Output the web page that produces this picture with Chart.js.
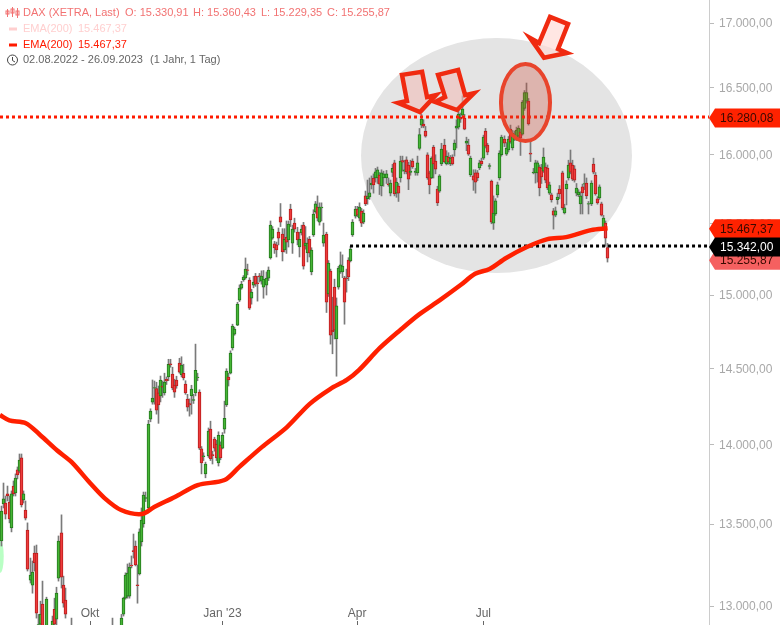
<!DOCTYPE html>
<html><head><meta charset="utf-8">
<style>html,body{margin:0;padding:0;background:#fff;overflow:hidden}#w{position:relative;width:780px;height:625px}canvas{display:block}</style>
<script src="https://cdn.jsdelivr.net/npm/chart.js@4"></script>
</head><body><div id="w"><canvas id="c" width="780" height="625"></canvas></div>
<script>
const _ = null;
const opens = [
13395,13625,13631,13688,13637,13476,13738,13694,13840,13833,
13917,13650,13587,13463,13156,13126,13321,13321,12886,12892,
13011,_,12870,_,_,12850,12981,12922,13168,13445,
13126,13035,_,_,12880,_,_,_,_,_,
_,_,_,_,_,_,_,_,_,_,
_,_,_,_,12870,_,_,_,12850,12952,
13047,13059,13059,13248,13336,13364,13128,13193,13389,13500,
13660,13600,14167,14279,14370,14368,14340,14320,14385,14340,
14430,14445,14532,14464,14391,14425,14537,14458,14470,14398,
14298,14270,14320,14290,14340,14440,14345,13975,13925,13815,
13930,14102,13938,14038,14005,13885,14000,13980,14102,14260,
14445,14470,14640,14733,14794,14965,15048,15105,15118,15175,
15103,14978,15068,15131,15085,15133,15096,15055,15068,15117,
15258,15398,15357,15350,15440,15550,15427,15315,15405,15385,
15605,15362,15505,15440,15335,15435,15490,15342,15293,15390,
15160,15420,15585,15620,15512,15614,15362,15427,15008,15166,
14758,15055,14700,15055,15160,15160,15117,15120,15244,15237,
15420,15555,15605,15540,15590,15512,15700,15680,15692,15780,
15830,15830,15830,15852,15772,15830,15830,15788,15720,15870,
15940,15720,15772,15830,15958,15880,15962,15925,15870,15954,
15870,15867,16046,16220,16228,16175,16000,15867,15830,16057,
15954,15750,15735,15932,16072,15932,15983,15932,15983,16035,
16197,16205,16278,16295,16272,16086,16072,15852,15845,15867,
15867,15903,15954,15975,16175,16072,15914,15808,15505,15570,
15708,15830,16000,16116,16005,16035,16190,16050,16116,16116,
16138,16168,16153,16345,16400,16400,16013,15867,15867,15867,
15910,15903,15880,15910,15903,15720,15708,15592,15562,15672,
15750,15867,15577,15750,15830,15940,15925,15896,15720,15708,
15642,15765,15785,15793,15640,15642,15932,15852,15678,15685,
15642,15470,15505,15330.91];
const highs = [
13612,13757,13675,13738,13675,13707,13770,13815,13859,13942,
13942,13707,13644,13507,13290,13272,13364,13370,12950,13029,
13150,_,13053,_,_,12940,13047,13113,13426,13557,
13180,13108,_,_,12928,_,_,_,_,_,
_,_,_,_,_,_,_,_,_,_,
_,_,_,_,12928,_,_,_,12950,13053,
13200,13254,13260,13303,13438,13395,13248,13470,13600,13700,
13700,14160,14235,14425,14418,14410,14385,14451,14418,14470,
14445,14563,14563,14510,14430,14450,14570,14580,14530,14420,
14330,14300,14390,14330,14665,14470,14360,13990,13950,13890,
14110,14154,13960,14050,14030,14085,14020,14080,14285,14500,
14470,14620,14800,14780,14950,15070,15095,15135,15258,15215,
15120,15040,15130,15150,15130,15150,15168,15170,15160,15195,
15520,15480,15375,15370,15470,15645,15465,15465,15520,15520,
15640,15490,15540,15475,15440,15490,15510,15480,15400,15410,
15330,15600,15660,15700,15650,15650,15505,15440,15240,15180,
14985,15110,14980,15200,15300,15280,15130,15180,15260,15340,
15530,15625,15625,15650,15610,15600,15735,15815,15830,15845,
15860,15900,15910,15870,15890,15880,15885,15830,15815,15930,
15960,15830,15790,15990,15990,15960,15985,15945,15960,15970,
15900,15990,16195,16300,16260,16210,16015,15880,15985,16070,
16000,15770,15855,16085,16115,16030,16015,15995,16000,16110,
16260,16330,16310,16440,16300,16130,16115,15990,15890,15890,
15885,15960,15975,16145,16195,16085,15935,15815,15700,15680,
15800,16030,16145,16140,16090,16135,16220,16180,16175,16205,
16215,16190,16405,16480,16537,16420,16100,15900,15960,15955,
15925,15930,16050,15940,15925,15800,15720,15610,15620,15720,
15775,15880,15640,15810,15960,16035,15960,15920,15790,15745,
15730,15785,15860,15830,15660,15810,15975,15870,15695,15780,
15655,15560,15520,15360.43];
const lows = [
13364,13600,13531,13644,13507,13451,13675,13675,13783,13821,
13606,13631,13525,13211,13138,13077,13211,12928,12860,12860,
12820,_,12820,_,_,12800,12850,12880,13150,13108,
12993,12928,_,_,12800,_,_,_,_,_,
_,_,_,_,_,_,_,_,_,_,
_,_,_,_,12800,_,_,_,12820,12940,
13041,13047,13047,13230,13290,13242,13017,13187,13364,13480,
13640,13590,14150,14265,14265,14200,14140,14280,14310,14325,
14395,14420,14510,14360,14310,14370,14470,14445,14425,14330,
14220,14187,14200,14270,14320,14420,13970,13815,13900,13790,
13920,13900,13878,13960,13900,13865,13905,13975,14076,14250,
14385,14465,14625,14725,14790,14955,15040,15095,15110,15140,
14900,14937,15050,15060,14958,15090,15075,14978,15000,15100,
15250,15390,15290,15265,15350,15480,15237,15300,15290,15335,
15480,15290,15440,15350,15265,15420,15180,15320,15230,15265,
15140,15410,15575,15520,15490,15520,15340,14880,14990,14665,
14600,14700,14450,15040,15150,15120,14800,15020,15100,15230,
15410,15540,15550,15520,15480,15500,15630,15640,15675,15750,
15720,15800,15790,15710,15700,15770,15790,15770,15700,15840,
15700,15690,15660,15800,15880,15860,15860,15745,15850,15900,
15850,15850,16035,16200,16200,16130,15820,15715,15825,15830,
15860,15630,15725,15920,15940,15925,15930,15920,15925,15990,
16050,16190,16240,16285,16185,16030,15995,15840,15740,15720,
15810,15890,15920,15965,16050,16000,15895,15500,15460,15560,
15690,15815,15990,16060,15995,16020,16085,16035,16105,16105,
16125,15995,16145,16330,16385,16220,15950,15860,15793,15800,
15700,15790,15870,15795,15745,15710,15655,15462,15550,15640,
15680,15600,15570,15635,15815,15860,15810,15800,15700,15695,
15570,15570,15745,15680,15570,15630,15860,15705,15640,15675,
15555,15460,15340,15229.35];
const closes = [
13581,13657,13562,13675,13531,13688,13688,13789,13808,13903,
13619,13688,13537,13223,13187,13205,13260,12958,12890,12952,
12870,_,13041,_,_,12910,12892,13077,13395,13174,
13017,12952,_,_,12860,_,_,_,_,_,
_,_,_,_,_,_,_,_,_,_,
_,_,_,_,12860,_,_,_,12928,13047,
13187,13199,13235,13242,13330,13248,13122,13451,13525,13681,
13665,14135,14220,14305,14375,14226,14260,14425,14378,14411,
14418,14530,14527,14372,14345,14385,14477,14524,14438,14340,
14246,14260,14365,14295,14490,14445,13980,13885,13930,13878,
14090,13910,13932,13980,13917,14063,13917,14063,14173,14485,
14425,14605,14788,14767,14937,15048,15075,15125,15180,15170,
14910,15020,15090,15075,15078,15125,15131,15110,15117,15173,
15490,15462,15328,15315,15398,15512,15300,15390,15370,15497,
15527,15462,15462,15385,15390,15462,15200,15362,15362,15293,
15314,15570,15642,15540,15620,15620,15420,14950,15223,14726,
14750,14760,14925,15188,15210,15202,14950,15113,15125,15320,
15512,15605,15562,15620,15505,15577,15642,15695,15722,15793,
15780,15875,15890,15785,15868,15860,15860,15782,15793,15900,
15715,15800,15720,15954,15945,15890,15875,15822,15880,15910,
15880,15940,16150,16265,16212,16138,15830,15780,15975,15932,
15895,15650,15845,16042,15947,15990,15947,15975,15932,16086,
16212,16302,16265,16340,16190,16101,16005,15975,15815,15800,
15830,15940,15932,16130,16064,16020,15920,15512,15577,15664,
15780,16012,16130,16086,16050,16116,16094,16160,16150,16183,
16198,16123,16393,16465,16465,16228,16005,15873,15940,15940,
15757,15838,15983,15815,15757,15780,15672,15562,15592,15692,
15715,15614,15614,15786,15925,15873,15822,15815,15757,15728,
15700,15722,15790,15700,15645,15793,15873,15715,15650,15765,
15562,15540,15398,15255.87];

const emaSessions = [-0.5,4,12,19,27,34,43,50,58,68,74,84,95,108,115,126,138,149,159,167,173,183,193,202,212,222,229,236,244,254,264,273,285,293];
const emaValues = [14194,14160,14141,14063,13966,13891,13757,13662,13587,13562,13606,13669,13744,13776,13858,13986,14114,14266,14365,14425,14492,14639,14762,14867,14965,15069,15147,15181,15258,15335,15391,15405,15455,15467.37];

const xTickSessions = [43,107,172,233];
const xTickLabels = ['Okt',"Jan '23",'Apr','Jul'];
const yTickValues = [17000,16500,16000,15500,15000,14500,14000,13500,13000];

const resistance = 16280.08;
const neckline = 15342.00;
const necklineStart = 168.6;
const lastSession = 342;

const tagValues = [16280.08,15255.87,15467.37,15342.00];
const tagLabels = ['16.280,08','15.255,87','15.467,37','15.342,00'];
const tagFills = ['#ff2200','#f56060','#ff2200','#000000'];
const tagInks = ['#3a0a00','#3a0a00','#3a0a00','#ffffff'];
const tagOffsets = [1,2,0.5,1];

const zoneEllipse = {from:173.9,to:304.8,top:16883,bottom:15152};
const spikeEllipse = {from:241.5,to:265.2,top:16683,bottom:16101};
const glowEllipse = {from:-2,to:1.3,top:13401,bottom:13201};
const arrowSessions = [
 [193.7,203.4,205.8,210.1,202.4,191.8,196.1],
 [211.1,220.8,224.2,228.5,220.3,209.7,214.5],
 [265.2,273.9,269.1,273.4,262.3,255.6,259.9]];
const arrowPrices = [
 [16599,16622,16430,16445,16318,16386,16401],
 [16599,16637,16445,16460,16333,16393,16430],
 [17048,16992,16798,16767,16730,16883,16844]];
const arrowFills = ['rgba(240,190,185,.62)','rgba(240,190,185,.62)','rgba(255,215,210,.62)'];

const deNum = v => v.toLocaleString('de-DE',{minimumFractionDigits:2,maximumFractionDigits:2});
const rows = opens.map((o,i)=>({i,o,h:highs[i],l:lows[i],c:closes[i]})).filter(r=>r.o!==null);
const GREEN=['#46b636','#23781c'], RED=['#ee3c3c','#b81c1c'];

function ell(ctx,ch,e){
  const x=ch.scales.x,y=ch.scales.y;
  const a=x.getPixelForValue(e.from),b=x.getPixelForValue(e.to),t=y.getPixelForValue(e.top),u=y.getPixelForValue(e.bottom);
  ctx.beginPath();ctx.ellipse((a+b)/2,(t+u)/2,Math.abs(b-a)/2,Math.abs(u-t)/2,0,0,Math.PI*2);
}
const overlays = {
  id:'overlays',
  beforeDatasetsDraw(ch){
    const ctx=ch.ctx;ctx.save();
    ell(ctx,ch,zoneEllipse);ctx.fillStyle='#e4e4e4';ctx.fill();
    ell(ctx,ch,glowEllipse);ctx.fillStyle='#b9ffc4';ctx.fill();
    ctx.restore();
    // snap candle bars onto whole pixels
    ch.getSortedVisibleDatasetMetas().forEach(m=>{
      if(m.type==='bar') m.data.forEach(el=>{el.x=Math.floor(el.x)+0.5;});
    });
  },
  afterDatasetsDraw(ch){
    const ctx=ch.ctx,x=ch.scales.x,y=ch.scales.y;ctx.save();
    ell(ctx,ch,spikeEllipse);ctx.fillStyle='rgba(205,70,50,.3)';ctx.fill();
    ctx.lineWidth=4;ctx.strokeStyle='#e8442c';ctx.stroke();
    arrowSessions.forEach((xs,k)=>{
      ctx.beginPath();
      xs.forEach((v,j)=>{const px=x.getPixelForValue(v),py=y.getPixelForValue(arrowPrices[k][j]);j?ctx.lineTo(px,py):ctx.moveTo(px,py);});
      ctx.closePath();ctx.fillStyle=arrowFills[k];ctx.fill();
      ctx.lineWidth=4.5;ctx.lineJoin='miter';ctx.strokeStyle='#f02a10';ctx.stroke();
    });
    ctx.restore();
  },
  afterDraw(ch){
    const ctx=ch.ctx,y=ch.scales.y,edge=ch.chartArea.right;ctx.save();
    ctx.font='12px "Liberation Sans",Arial,sans-serif';ctx.textBaseline='middle';ctx.textAlign='left';
    tagValues.forEach((v,k)=>{
      const c=y.getPixelForValue(v)+tagOffsets[k],h=9.5;
      ctx.beginPath();ctx.moveTo(edge,c);ctx.lineTo(edge+6,c-h);ctx.lineTo(780,c-h);ctx.lineTo(780,c+h);ctx.lineTo(edge+6,c+h);ctx.closePath();
      ctx.fillStyle=tagFills[k];ctx.fill();
      ctx.fillStyle=tagInks[k];ctx.fillText(tagLabels[k],720,c+0.5);
    });
    // header block
    ctx.font='11px "Liberation Sans",Arial,sans-serif';
    ctx.fillStyle='#f27272';ctx.fillText('DAX (XETRA, Last)',23,13);
    ctx.fillText('O: 15.330,91',125,13);ctx.fillText('H: 15.360,43',193,13);ctx.fillText('L: 15.229,35',261,13);ctx.fillText('C: 15.255,87',327,13);
    ctx.fillStyle='#ffcfcf';ctx.fillText('EMA(200)',23,29);ctx.fillText('15.467,37',78,29);
    ctx.fillRect(9,27.5,8,3);
    ctx.fillStyle='#ff1a00';ctx.fillText('EMA(200)',23,45);ctx.fillText('15.467,37',78,45);
    ctx.fillRect(9,43.5,8,3);
    ctx.fillStyle='#666';ctx.fillText('02.08.2022 - 26.09.2023',23,60);ctx.fillText('(1 Jahr, 1 Tag)',150,60);
    // icons
    ctx.strokeStyle='#f27272';ctx.lineWidth=1;
    [[7,10,16,11,14],[12,8,16,9,13],[17,9,17,11,15]].forEach(b=>{
      ctx.beginPath();ctx.moveTo(b[0]+.5,b[1]-1);ctx.lineTo(b[0]+.5,b[2]+1);ctx.stroke();
      ctx.strokeRect(b[0]-1,b[3],3,b[4]-b[3]);
    });
    ctx.strokeStyle='#444';ctx.beginPath();ctx.arc(12.5,60,5,0,Math.PI*2);ctx.stroke();
    ctx.beginPath();ctx.moveTo(12.5,57);ctx.lineTo(12.5,60.5);ctx.lineTo(15,62);ctx.stroke();
    ctx.restore();
  }
};

new Chart(document.getElementById('c'),{
  type:'bar',
  data:{datasets:[
    {type:'line',label:'EMA(200)',order:1,data:emaSessions.map((s,i)=>({x:s,y:emaValues[i]})),borderColor:'#ff2000',borderWidth:4.5,pointRadius:0,tension:.3,fill:false},
    {type:'line',label:'Widerstand',order:2,data:[{x:-0.5,y:resistance},{x:lastSession,y:resistance}],borderColor:'#ff1a00',borderWidth:3,borderDash:[3,3],pointRadius:0},
    {type:'line',label:'Nackenlinie',order:2,data:[{x:necklineStart,y:neckline},{x:lastSession,y:neckline}],borderColor:'#000',borderWidth:3,borderDash:[3,3],pointRadius:0},
    {label:'DAX',order:3,grouped:false,barThickness:3,borderWidth:1,borderSkipped:false,
     data:rows.map(r=>({x:r.i,y:[Math.min(r.o,r.c),Math.max(r.o,r.c)]})),
     backgroundColor:rows.map(r=>r.c>=r.o?GREEN[0]:RED[0]),borderColor:rows.map(r=>r.c>=r.o?GREEN[1]:RED[1])},
    {label:'Docht',order:4,grouped:false,barThickness:1,borderWidth:0,
     data:rows.map(r=>({x:r.i,y:[r.l,r.h]})),backgroundColor:'#7a7a7a'}
  ]},
  plugins:[overlays],
  options:{
    responsive:false,animation:false,
    layout:{padding:0,autoPadding:false},
    plugins:{legend:{display:false},tooltip:{enabled:false},title:{display:false}},
    scales:{
      x:{type:'linear',min:-0.5,max:lastSession,bounds:'data',offset:false,
        afterBuildTicks(s){s.ticks=xTickSessions.map(v=>({value:v}));},
        afterFit(s){s.height=0;s.paddingTop=0;s.paddingBottom=0;s.paddingLeft=0;s.paddingRight=0;},
        grid:{drawOnChartArea:false,offset:false,tickLength:-4,color:'#666'},border:{display:false},
        ticks:{autoSkip:false,mirror:true,maxRotation:0,padding:4,color:'#666',font:{size:12,family:'"Liberation Sans",Arial,sans-serif'},
          callback(v){const k=xTickSessions.indexOf(v);return k<0?'':xTickLabels[k];}}},
      y:{type:'logarithmic',position:'right',min:12887,max:17181,bounds:'data',
        afterBuildTicks(s){s.ticks=yTickValues.map(v=>({value:v}));},
        afterFit(s){s.width=71;s.paddingTop=0;s.paddingBottom=0;s.paddingLeft=0;s.paddingRight=0;},
        grid:{drawOnChartArea:false,tickLength:5,color:'#bbb'},border:{color:'#ccc',width:1},
        ticks:{autoSkip:false,padding:5,labelOffset:1,color:'#a8a8a8',font:{size:12,family:'"Liberation Sans",Arial,sans-serif'},callback:v=>deNum(v)}}
    }
  }
});
</script></body></html>
